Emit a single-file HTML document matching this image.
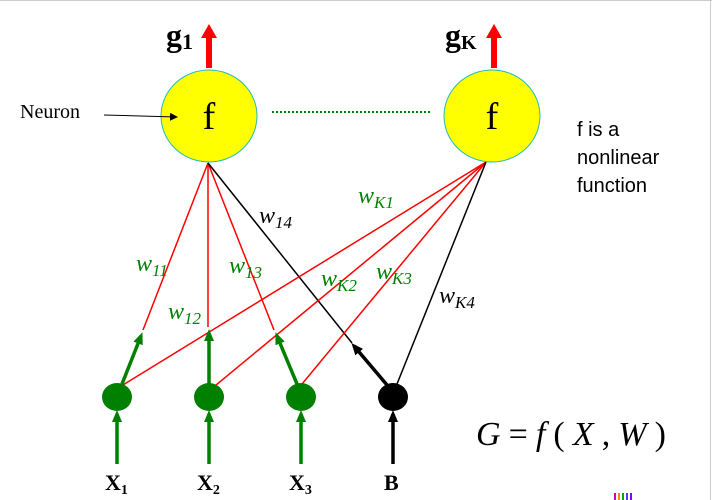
<!DOCTYPE html>
<html><head><meta charset="utf-8"><style>
body{margin:0;background:#fff}
svg{display:block}
text{font-family:"Liberation Serif",serif}
</style></head><body>
<svg width="712" height="500" viewBox="0 0 712 500">
<defs>
<marker id="ag" markerWidth="12" markerHeight="12" refX="8" refY="6" orient="auto" markerUnits="userSpaceOnUse"><path d="M0,1 L12,6 L0,11 z" fill="#008000"/></marker>
<marker id="ar" markerWidth="16" markerHeight="16" refX="4" refY="8" orient="auto" markerUnits="userSpaceOnUse"><path d="M0,0 L14,8 L0,16 z" fill="#f00"/></marker>
<marker id="ak" markerWidth="12" markerHeight="12" refX="8" refY="6" orient="auto" markerUnits="userSpaceOnUse"><path d="M0,1 L12,6 L0,11 z" fill="#000"/></marker>
<marker id="ab" markerWidth="8" markerHeight="8" refX="6" refY="4" orient="auto" markerUnits="userSpaceOnUse"><path d="M0,0 L8,4 L0,8 z" fill="#000"/></marker>
</defs>
<line x1="0" y1="0.5" x2="712" y2="0.5" stroke="#ccc"/>
<line x1="710.5" y1="0" x2="710.5" y2="500" stroke="#ccc"/>

<line x1="209" y1="68" x2="209" y2="34" stroke="#f00" stroke-width="6" marker-end="url(#ar)"/>
<line x1="494" y1="68" x2="494" y2="34" stroke="#f00" stroke-width="6" marker-end="url(#ar)"/>
<text x="166" y="46" font-size="32" font-weight="bold">g<tspan font-size="22" dy="3">1</tspan></text>
<text x="445" y="46" font-size="32" font-weight="bold">g<tspan font-size="20" dy="3">K</tspan></text>

<line x1="208" y1="163" x2="143" y2="330" stroke="#f00" stroke-width="1.5"/>
<line x1="208" y1="163" x2="208" y2="327" stroke="#f00" stroke-width="1.5"/>
<line x1="208" y1="163" x2="274" y2="330" stroke="#f00" stroke-width="1.5"/>
<line x1="208" y1="163" x2="352" y2="343" stroke="#000" stroke-width="1.5"/>
<line x1="486" y1="162" x2="118" y2="388" stroke="#f00" stroke-width="1.5"/>
<line x1="486" y1="162" x2="210" y2="390" stroke="#f00" stroke-width="1.5"/>
<line x1="486" y1="162" x2="302" y2="384" stroke="#f00" stroke-width="1.5"/>
<line x1="486" y1="162" x2="397" y2="384" stroke="#000" stroke-width="1.5"/>

<line x1="122" y1="384" x2="141" y2="336" stroke="#008000" stroke-width="3.5" marker-end="url(#ag)"/>
<line x1="209" y1="384" x2="209" y2="333" stroke="#008000" stroke-width="3.5" marker-end="url(#ag)"/>
<line x1="297" y1="384" x2="277" y2="336" stroke="#008000" stroke-width="3.5" marker-end="url(#ag)"/>
<line x1="387" y1="385" x2="354" y2="346" stroke="#000" stroke-width="3.5" marker-end="url(#ak)"/>

<ellipse cx="209" cy="116" rx="48" ry="46" fill="#ff0" stroke="#2bb" stroke-width="1"/>
<ellipse cx="492" cy="116" rx="48" ry="46" fill="#ff0" stroke="#2bb" stroke-width="1"/>
<text x="209" y="129" font-size="38" text-anchor="middle">f</text>
<text x="492" y="129" font-size="38" text-anchor="middle">f</text>
<line x1="272" y1="112" x2="430" y2="112" stroke="#008000" stroke-width="2" stroke-dasharray="2,2"/>

<text x="20" y="118" font-size="20">Neuron</text>
<line x1="104" y1="115" x2="176" y2="117" stroke="#000" stroke-width="1" marker-end="url(#ab)"/>

<g font-size="20">
<text x="577" y="136" style="font-family:'Liberation Sans',sans-serif">f is a</text>
<text x="577" y="164" style="font-family:'Liberation Sans',sans-serif">nonlinear</text>
<text x="577" y="192" style="font-family:'Liberation Sans',sans-serif">function</text>
</g>

<g font-size="24" font-style="italic" fill="#008000">
<text x="136" y="271">w<tspan font-size="17" dy="5">11</tspan></text>
<text x="168" y="319">w<tspan font-size="17" dy="5">12</tspan></text>
<text x="229" y="273">w<tspan font-size="17" dy="5">13</tspan></text>
<text x="358" y="203">w<tspan font-size="17" dy="5">K1</tspan></text>
<text x="321" y="286">w<tspan font-size="17" dy="5">K2</tspan></text>
<text x="376" y="279">w<tspan font-size="17" dy="5">K3</tspan></text>
</g>
<g font-size="24" font-style="italic" fill="#000">
<text x="259" y="223">w<tspan font-size="17" dy="5">14</tspan></text>
<text x="439" y="303">w<tspan font-size="17" dy="5">K4</tspan></text>
</g>

<ellipse cx="117" cy="397" rx="15" ry="14" fill="#008000"/>
<ellipse cx="209" cy="397" rx="15" ry="14" fill="#008000"/>
<ellipse cx="301" cy="397" rx="15" ry="14" fill="#008000"/>
<ellipse cx="393" cy="397" rx="15" ry="14" fill="#000"/>
<line x1="117" y1="464" x2="117" y2="414" stroke="#008000" stroke-width="3.5" marker-end="url(#ag)"/>
<line x1="209" y1="464" x2="209" y2="414" stroke="#008000" stroke-width="3.5" marker-end="url(#ag)"/>
<line x1="301" y1="464" x2="301" y2="414" stroke="#008000" stroke-width="3.5" marker-end="url(#ag)"/>
<line x1="393" y1="464" x2="393" y2="414" stroke="#000" stroke-width="3.5" marker-end="url(#ak)"/>

<g font-size="22" font-weight="bold">
<text x="105" y="490">X<tspan font-size="14" dy="4">1</tspan></text>
<text x="197" y="490">X<tspan font-size="14" dy="4">2</tspan></text>
<text x="289" y="490">X<tspan font-size="14" dy="4">3</tspan></text>
<text x="384" y="490">B</text>
</g>

<text x="476" y="445" font-size="34" textLength="190" lengthAdjust="spacing"><tspan font-style="italic">G</tspan>=<tspan font-style="italic">f</tspan>(<tspan font-style="italic">X</tspan>,<tspan font-style="italic">W</tspan>)</text>

<g>
<rect x="614" y="493" width="2" height="7" fill="#c0c"/>
<rect x="618" y="493" width="2" height="7" fill="#f80"/>
<rect x="622" y="493" width="2" height="7" fill="#0a0"/>
<rect x="626" y="493" width="2" height="7" fill="#44f"/>
<rect x="630" y="493" width="2" height="7" fill="#80f"/>
</g>
</svg>
</body></html>
